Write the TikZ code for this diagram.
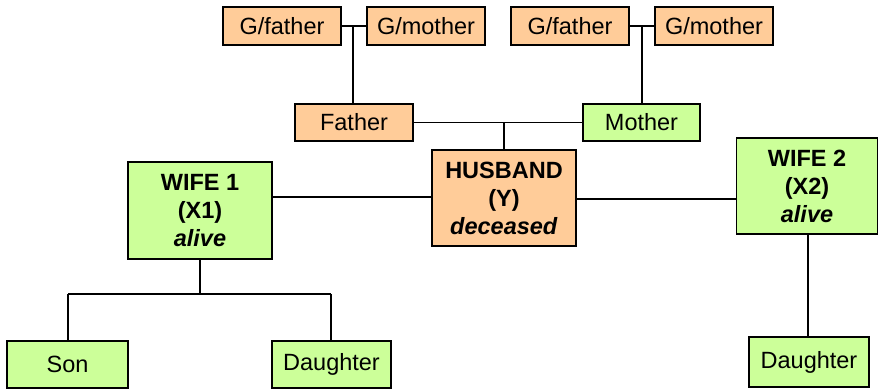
\documentclass[tikz,border=0pt]{standalone}
\usepackage{fontspec}
\setmainfont{Liberation Sans}
\definecolor{peach}{HTML}{FFCC99}
\definecolor{lime}{HTML}{CCFF99}
\begin{document}
\begin{tikzpicture}[x=1pt,y=-1pt,
  person/.style={draw=black, line width=1.6pt, inner sep=0pt, align=center,
    font=\fontsize{23.5}{28}\selectfont},
  male/.style={person, fill=peach},
  female/.style={person, fill=lime},
  key/.style={font=\fontsize{23.5}{28}\selectfont\bfseries},
  link/.style={line width=1.5pt}]
\useasboundingbox (0,0) rectangle (879,390);

% grandparents
\node[male,   minimum width=118pt, minimum height=38pt] (gf1) at (282,26) {G/father};
\node[male,   minimum width=118pt, minimum height=38pt] (gm1) at (426,26) {G/mother};
\node[male,   minimum width=118pt, minimum height=38pt] (gf2) at (570,26) {G/father};
\node[male,   minimum width=118pt, minimum height=38pt] (gm2) at (714,26) {G/mother};

% parents
\node[male,   minimum width=118pt, minimum height=37pt] (father) at (354,122.5) {Father};
\node[female, minimum width=117pt, minimum height=37pt] (mother) at (641.5,122.5) {Mother};

% spouses
\node[male, key,   minimum width=144pt, minimum height=96pt] (husband) at (504,198)
  {HUSBAND\\(Y)\\\textit{deceased}};
\node[female, key, minimum width=144pt, minimum height=97pt] (wife1) at (200,210.5)
  {WIFE 1\\(X1)\\\textit{alive}};
\node[female, key, minimum width=141pt, minimum height=96pt] (wife2) at (807,186)
  {WIFE 2\\(X2)\\\textit{alive}};

% children
\node[female, minimum width=121pt, minimum height=47pt] (son)  at (67.5,364.5) {Son};
\node[female, minimum width=119pt, minimum height=47pt] (dau1) at (331.5,364.5) {Daughter};
\node[female, minimum width=120pt, minimum height=50pt] (dau2) at (809,362) {Daughter};

% junction points
\coordinate (j1) at (353,26);
\coordinate (j2) at (642,26);
\coordinate (j3) at (504,123);
\coordinate (j4) at (200,294);
\coordinate (j5) at (68,294);
\coordinate (j6) at (331,294);

% grandparent couples and their children
\draw[link] (gf1.east) -- (gm1.west);
\draw[link] (j1) -- (j1 |- father.north);
\draw[link] (gf2.east) -- (gm2.west);
\draw[link] (j2) -- (j2 |- mother.north);

% parents and husband
\draw[link] (father.east) -- (mother.west);
\draw[link] (j3) -- (husband.north);

% marriages
\draw[link] (wife1.east |- 0,197) -- (husband.west |- 0,197);
\draw[link] (husband.east |- 0,199) -- (wife2.west |- 0,199);

% children of wife 1
\draw[link] (wife1.south) -- (j4);
\draw[link] (j5) -- (j6);
\draw[link] (j5) -- (son.north -| j5);
\draw[link] (j6) -- (dau1.north -| j6);

% child of wife 2
\draw[link] (wife2.south -| 808,0) -- (dau2.north -| 808,0);
\end{tikzpicture}
\end{document}
